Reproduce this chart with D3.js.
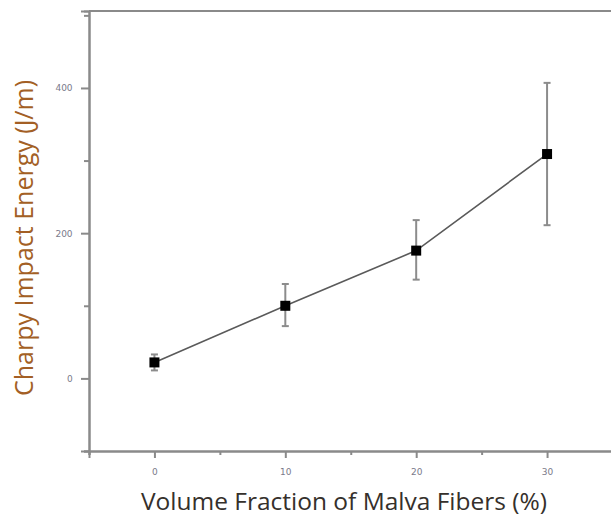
<!DOCTYPE html>
<html><head><meta charset="utf-8">
<script src="https://cdn.jsdelivr.net/npm/d3@7"></script>
<style>html,body{margin:0;padding:0;background:#fff;overflow:hidden}</style>
</head><body>
<svg id="c" width="611" height="518"></svg>
<script>
const volumeFraction = [0, 10, 20, 30];
const impactEnergy = [22, 100, 176, 309];
const errLow = [11, 72, 136, 211];
const errHigh = [33, 130, 218, 407];
const xMajorTicks = [0, 10, 20, 30];
const xMinorTicks = [-5, 5, 15, 25, 35];
const yMajorTicks = [0, 200, 400];
const yMinorTicks = [-100, 100, 300, 500];
const xTitle = "Volume Fraction of Malva Fibers (%)";
const yTitle = "Charpy Impact Energy (J/m)";

const svg = d3.select("#c");
const mLeft = 89, mTop = 11, mBottom = 451, mRight = 612.5;
const x = d3.scaleLinear().domain([-5, 35]).range([mLeft, mRight]);
const y = d3.scaleLinear().domain([-100, 506]).range([mBottom, mTop]);
const axisCol = "#8a8a8a";

// frame top line
svg.append("line").attr("x1", mLeft).attr("x2", 611).attr("y1", mTop).attr("y2", mTop)
  .attr("stroke", axisCol).attr("stroke-width", 2);

// axes
const xAx = svg.append("g").attr("transform", `translate(0,${mBottom})`)
  .call(d3.axisBottom(x).tickValues(xMajorTicks).tickSize(7).tickFormat(d3.format("d")));
const xAxMin = svg.append("g").attr("transform", `translate(0,${mBottom})`)
  .call(d3.axisBottom(x).tickValues(xMinorTicks).tickSize(4).tickFormat(""));
const yAx = svg.append("g").attr("transform", `translate(${mLeft},0)`)
  .call(d3.axisLeft(y).tickValues(yMajorTicks).tickSize(8).tickFormat(d3.format("d")));
const yAxMin = svg.append("g").attr("transform", `translate(${mLeft},0)`)
  .call(d3.axisLeft(y).tickValues(yMinorTicks).tickSize(5).tickFormat(""));
[xAx, xAxMin, yAx, yAxMin].forEach(g => {
  g.select(".domain").attr("stroke", axisCol).attr("stroke-width", 2);
  g.selectAll(".tick line").attr("stroke", axisCol).attr("stroke-width", 2);
  g.selectAll(".tick text").attr("fill", "#7a7a8a").attr("font-size", 9)
    .attr("font-family", "'DejaVu Sans', sans-serif");
});
xAx.selectAll(".tick text").attr("dy", "1.6em");
yAx.selectAll(".tick text").attr("dx", "-0.6em");

// error bars
const eb = svg.append("g").attr("stroke", "#8c8c8c").attr("stroke-width", 2);
volumeFraction.forEach((v, i) => {
  eb.append("line").attr("x1", x(v)).attr("x2", x(v)).attr("y1", y(errLow[i])).attr("y2", y(errHigh[i]));
  [errLow[i], errHigh[i]].forEach(e => {
    eb.append("line").attr("x1", x(v) - 3.5).attr("x2", x(v) + 3.5).attr("y1", y(e)).attr("y2", y(e));
  });
});

// line
svg.append("path").datum(volumeFraction.map((v, i) => [v, impactEnergy[i]]))
  .attr("fill", "none").attr("stroke", "#5a5a5a").attr("stroke-width", 1.6)
  .attr("d", d3.line().x(d => x(d[0])).y(d => y(d[1])));

// markers
svg.append("g").selectAll("rect").data(volumeFraction).join("rect")
  .attr("x", d => x(d) - 5).attr("y", (d, i) => y(impactEnergy[i]) - 5)
  .attr("width", 10).attr("height", 10).attr("fill", "#000");

// titles
svg.append("text").attr("x", 344).attr("y", 510).attr("text-anchor", "middle")
  .attr("font-family", "'Open Sans', sans-serif").attr("font-size", 24.5).attr("fill", "#35302b")
  .text(xTitle);
svg.append("text").attr("transform", "translate(33,238) rotate(-90)").attr("text-anchor", "middle")
  .attr("font-family", "'Open Sans', sans-serif").attr("font-size", 25).attr("fill", "#a35f25")
  .text(yTitle);
</script>
</body></html>
